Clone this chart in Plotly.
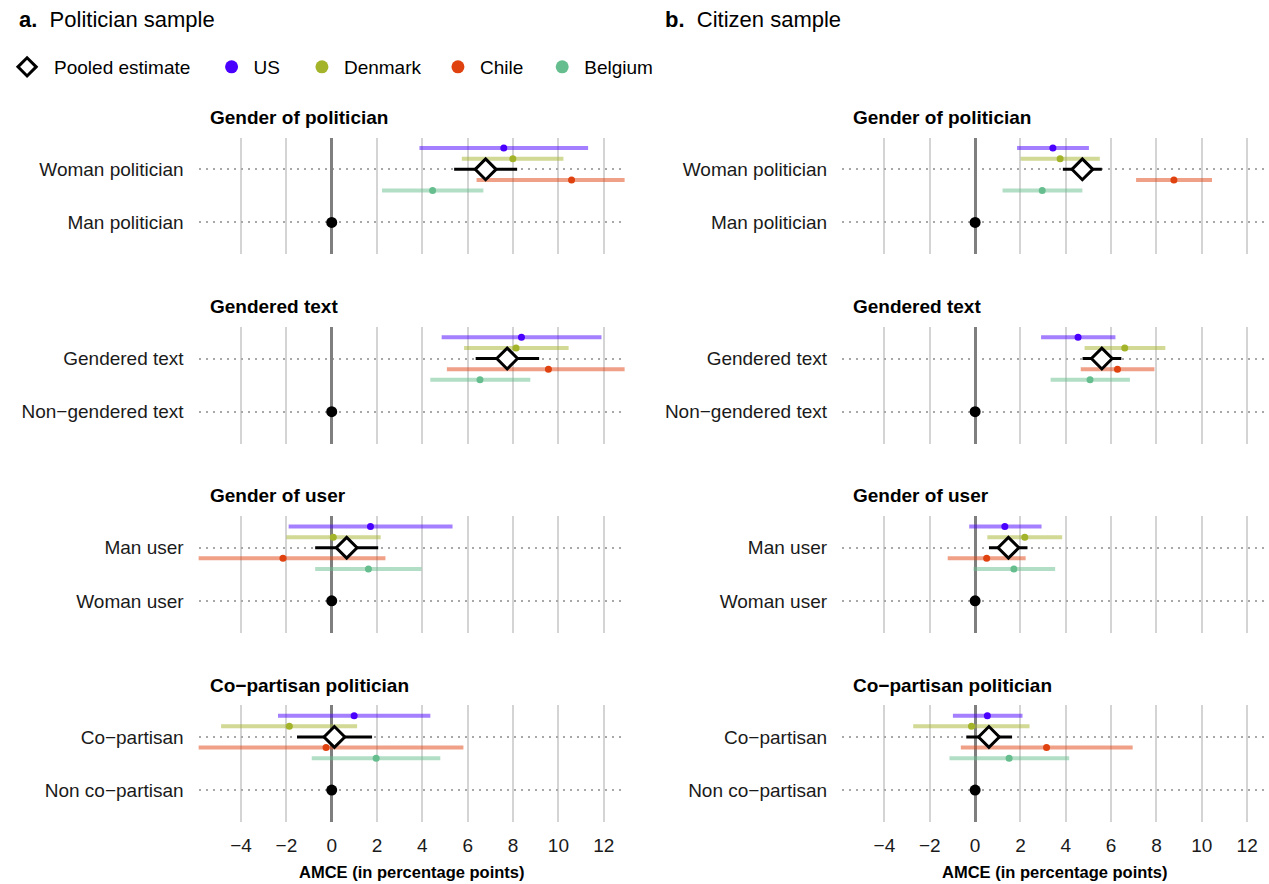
import plotly.graph_objects as go

# ---------------- data ----------------
FACETS = ["Gender of politician", "Gendered text", "Gender of user", "Co\u2212partisan politician"]
TREATMENT_LEVELS = ["Woman politician", "Gendered text", "Man user", "Co\u2212partisan"]
BASELINE_LEVELS = ["Man politician", "Non\u2212gendered text", "Woman user", "Non co\u2212partisan"]
BASELINE_AMCE = [0, 0, 0, 0]
GROUPS = ["US", "Denmark", "Pooled estimate", "Chile", "Belgium"]
LEGEND_ORDER = ["Pooled estimate", "US", "Denmark", "Chile", "Belgium"]
SAMPLES = ["Politician sample", "Citizen sample"]
SAMPLE_TAGS = ["a.", "b."]
X_TICKS = [-4, -2, 0, 2, 4, 6, 8, 10, 12]
X_TICK_LABELS = ["\u22124", "\u22122", "0", "2", "4", "6", "8", "10", "12"]

# Politician sample (estimate, lower, upper) per facet
pol_est = {"US": [7.59, 8.37, 1.71, 0.99], "Denmark": [7.99, 8.13, 0.07, -1.87],
           "Pooled estimate": [6.79, 7.74, 0.66, 0.12], "Chile": [10.58, 9.56, -2.15, -0.25],
           "Belgium": [4.45, 6.54, 1.62, 1.96]}
pol_lo = {"US": [3.87, 4.85, -1.90, -2.37], "Denmark": [5.74, 5.84, -2.00, -4.88],
          "Pooled estimate": [5.40, 6.35, -0.73, -1.53], "Chile": [6.39, 5.08, -6.67, -6.31],
          "Belgium": [2.22, 4.35, -0.73, -0.88]}
pol_hi = {"US": [11.31, 11.90, 5.33, 4.35], "Denmark": [10.22, 10.45, 2.16, 1.12],
          "Pooled estimate": [8.18, 9.15, 2.05, 1.78], "Chile": [14.77, 14.04, 2.37, 5.81],
          "Belgium": [6.69, 8.76, 3.96, 4.79]}

# Citizen sample
cit_est = {"US": [3.43, 4.54, 1.31, 0.54], "Denmark": [3.75, 6.60, 2.19, -0.16],
           "Pooled estimate": [4.73, 5.59, 1.47, 0.61], "Chile": [8.77, 6.28, 0.51, 3.15],
           "Belgium": [2.96, 5.07, 1.71, 1.50]}
cit_lo = {"US": [1.85, 2.91, -0.26, -0.98], "Denmark": [2.01, 4.83, 0.54, -2.73],
          "Pooled estimate": [3.87, 4.74, 0.61, -0.39], "Chile": [7.10, 4.66, -1.21, -0.63],
          "Belgium": [1.21, 3.33, -0.07, -1.13]}
cit_hi = {"US": [5.02, 6.19, 2.93, 2.09], "Denmark": [5.50, 8.39, 3.84, 2.40],
          "Pooled estimate": [5.59, 6.45, 2.31, 1.63], "Chile": [10.45, 7.91, 2.23, 6.95],
          "Belgium": [4.73, 6.83, 3.53, 4.15]}

SAMPLE_DATA = [(pol_est, pol_lo, pol_hi), (cit_est, cit_lo, cit_hi)]

# ---------------- style ----------------
W, H = 1269, 884
FONT = "Liberation Sans, Arial, Helvetica, sans-serif"
COLORS = {"US": "#4a00ff", "Denmark": "#a4b42a", "Chile": "#e0420f", "Belgium": "#66be8e",
          "Pooled estimate": "#000000"}
LINE_COLORS = {"US": "rgba(74,0,255,0.5)", "Denmark": "rgba(164,180,42,0.5)",
               "Chile": "rgba(224,66,15,0.5)", "Belgium": "rgba(102,190,142,0.5)"}
DODGE = {"US": 0.4, "Denmark": 0.2, "Pooled estimate": 0.0, "Chile": -0.2, "Belgium": -0.4}
X_RANGE = [-5.87, 12.92]
Y_RANGE = [-0.6, 1.6]
COL_PX = [(191, 620), (839, 1268)]
ROW_TOP0, ROW_STEP, ROW_H = 137.5, 189.2, 116.8


def fx(p):
    return p / W


def fy(p):
    return 1 - p / H


fig = go.Figure()
layout_axes = {}
annotations = []

for c, sample in enumerate(SAMPLES):
    est, lo, hi = SAMPLE_DATA[c]
    for r in range(4):
        k = r * 2 + c + 1
        xa = "x" if k == 1 else f"x{k}"
        ya = "y" if k == 1 else f"y{k}"
        top = ROW_TOP0 + r * ROW_STEP
        bot = top + ROW_H
        layout_axes["xaxis" if k == 1 else f"xaxis{k}"] = dict(
            domain=[fx(COL_PX[c][0]), fx(COL_PX[c][1])], anchor=ya, range=X_RANGE,
            tickvals=X_TICKS, ticktext=X_TICK_LABELS, showticklabels=(r == 3),
            showgrid=True, gridcolor="#d4d4d4", gridwidth=2,
            zeroline=True, zerolinecolor="#7f7f7f", zerolinewidth=3,
            showline=False, ticks="", ticklabelstandoff=10,
            tickfont=dict(size=19, color="#1a1a1a", family=FONT), automargin=False,
            fixedrange=True)
        layout_axes["yaxis" if k == 1 else f"yaxis{k}"] = dict(
            domain=[fy(bot), fy(top)], anchor=xa, range=Y_RANGE,
            tickvals=[0, 1], ticktext=[BASELINE_LEVELS[r], TREATMENT_LEVELS[r]],
            showgrid=True, gridcolor="#a8a8a8", gridwidth=1.5, griddash="2px,5px",
            zeroline=False, showline=False, ticks="", ticklabelstandoff=14,
            tickfont=dict(size=19, color="#1a1a1a", family=FONT), automargin=False,
            fixedrange=True)

        # baseline reference point
        fig.add_trace(go.Scatter(
            x=[BASELINE_AMCE[r]], y=[0], mode="markers",
            marker=dict(color="black", size=11), xaxis=xa, yaxis=ya,
            showlegend=False, hoverinfo="skip"))

        for g in ["US", "Denmark", "Chile", "Belgium", "Pooled estimate"]:
            e, l, h = est[g][r], lo[g][r], hi[g][r]
            if g == "Pooled estimate":
                marker = dict(symbol="diamond", size=16, color="white",
                              line=dict(color="black", width=3))
                err = dict(type="data", symmetric=False, array=[h - e], arrayminus=[e - l],
                           width=0, thickness=3, color="black")
            else:
                marker = dict(symbol="circle", size=7, color=COLORS[g], line=dict(width=0))
                err = dict(type="data", symmetric=False, array=[h - e], arrayminus=[e - l],
                           width=0, thickness=4, color=LINE_COLORS[g])
            fig.add_trace(go.Scatter(
                x=[e], y=[1 + DODGE[g]], mode="markers", marker=marker, error_x=err,
                xaxis=xa, yaxis=ya, showlegend=False, name=g,
                hovertemplate=f"{g}: %{{x:.2f}}<extra></extra>"))

        # facet strip title
        annotations.append(dict(
            text=f"<b>{FACETS[r]}</b>", x=fx(COL_PX[c][0] + 9), y=fy(top - 20),
            xref="paper", yref="paper", xanchor="left", yanchor="middle",
            showarrow=False, font=dict(size=19, color="#000000", family=FONT)))

    # axis title
    annotations.append(dict(
        text="<b>AMCE (in percentage points)</b>",
        x=fx((COL_PX[c][0] + COL_PX[c][1]) / 2), y=fy(872), xref="paper", yref="paper",
        xanchor="center", yanchor="middle", showarrow=False,
        font=dict(size=16.5, color="#000000", family=FONT)))

# panel titles
annotations.append(dict(text="<b>a.</b>  Politician sample", x=fx(8), y=fy(19),
                        xref="paper", yref="paper", xanchor="left", yanchor="middle",
                        showarrow=False, font=dict(size=22, color="#000000", family=FONT)))
annotations.append(dict(text="<b>b.</b>  Citizen sample", x=fx(659), y=fy(19),
                        xref="paper", yref="paper", xanchor="left", yanchor="middle",
                        showarrow=False, font=dict(size=22, color="#000000", family=FONT)))

# legend: one legend per entry so spacing matches
LEGEND_SYMBOL_PX = {"Pooled estimate": 18, "US": 224, "Denmark": 315, "Chile": 452, "Belgium": 557}
legend_layout = {}
for i, g in enumerate(LEGEND_ORDER):
    lname = "legend" if i == 0 else f"legend{i + 1}"
    if g == "Pooled estimate":
        mk = dict(symbol="diamond", size=14, color="white", line=dict(color="black", width=3))
        iw = 44
    else:
        mk = dict(symbol="circle", size=13, color=COLORS[g], line=dict(width=0))
        iw = 34
    fig.add_trace(go.Scatter(x=[None], y=[None], mode="markers", marker=mk, name=g,
                             legend=lname, showlegend=True, hoverinfo="skip"))
    legend_layout[lname] = dict(
        x=fx(LEGEND_SYMBOL_PX[g] - (iw / 2 + 5)), y=fy(67), xanchor="left", yanchor="middle",
        orientation="h", itemwidth=iw, bgcolor="rgba(0,0,0,0)", borderwidth=0,
        font=dict(size=19, color="#000000", family=FONT), itemclick=False, itemdoubleclick=False)

fig.update_layout(
    width=W, height=H, margin=dict(l=0, r=0, t=0, b=0, pad=0),
    paper_bgcolor="white", plot_bgcolor="white",
    font=dict(family=FONT, color="#000000"),
    annotations=annotations, **layout_axes, **legend_layout)

fig.write_html(
    "out.html",
    config={"displayModeBar": False},
    post_script="document.body.style.margin='0px';document.body.style.overflow='hidden';")
